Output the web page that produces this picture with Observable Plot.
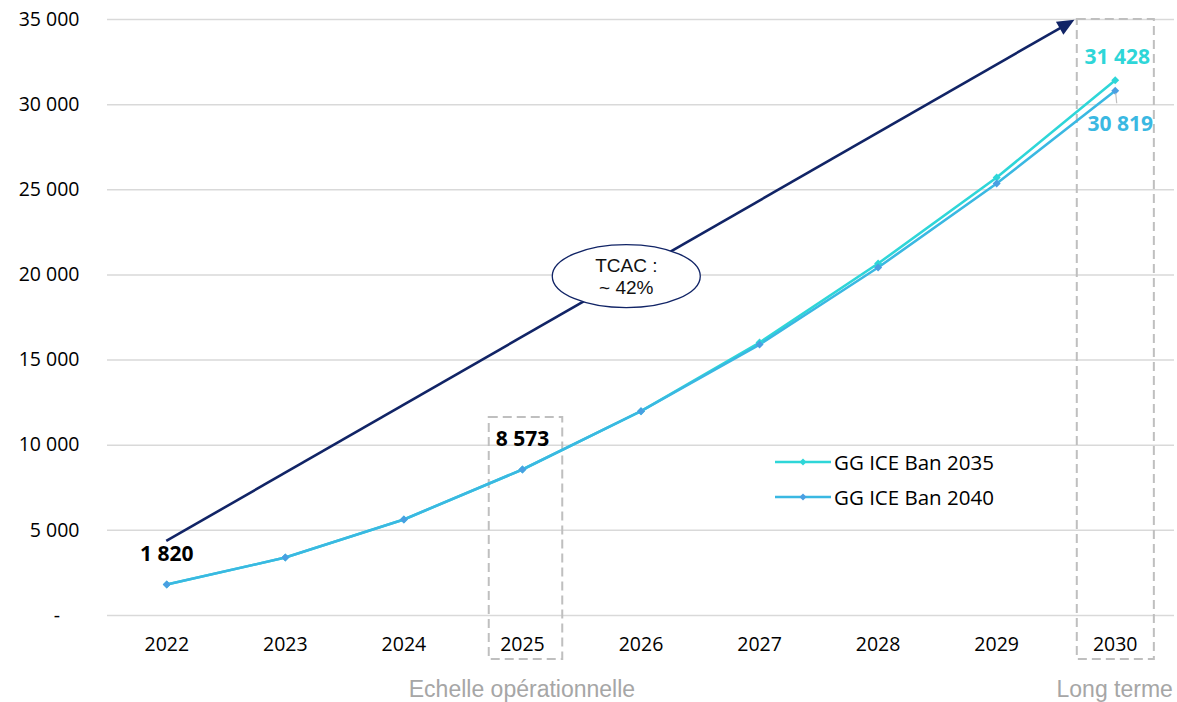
<!DOCTYPE html>
<html>
<head>
<meta charset="utf-8">
<script src="https://cdn.jsdelivr.net/npm/d3@7"></script>
<script src="https://cdn.jsdelivr.net/npm/@observablehq/plot@0.6"></script>
<style>
  html, body { margin: 0; padding: 0; background: #fff; }
  #wrap { position: relative; width: 1177px; height: 702px; font-family: "Open Sans", sans-serif; }
  .leg { position: absolute; left: 775px; font-size: 20.5px; color: #000; display: flex; align-items: center; font-family: "Open Sans", sans-serif; }
  .cap { position: absolute; top: 675px; font-size: 23px; line-height: 28px; color: #a6a6a6; transform: translateX(-50%); white-space: nowrap; font-family: "Liberation Sans", Arial, sans-serif; }
</style>
</head>
<body>
<div id="wrap"></div>
<script>
// ---- data ----
const years = [2022, 2023, 2024, 2025, 2026, 2027, 2028, 2029, 2030];
const ban2035 = [1820, 3400, 5640, 8573, 12000, 16030, 20670, 25720, 31428];
const ban2040 = [1820, 3400, 5640, 8573, 12000, 15910, 20435, 25370, 30819];
const seriesNames = ["GG ICE Ban 2035", "GG ICE Ban 2040"];
const yTicks = [0, 5000, 10000, 15000, 20000, 25000, 30000, 35000];
const labelYears = [2022, 2025, 2030, 2030];
const labelValues = [1820, 8573, 31428, 30819];
const labelSeries = [0, 0, 0, 1];
const arrowFrom = [2022, 4350];
const arrowTo = [2029.66, 34950];
const cagrAt = [2025.88, 19900];
const cagrText = "TCAC :\n~ 42%";
const boxYears = [[2024.72, 2025.34, 11630], [2029.68, 2030.33, 35000]];
const captions = ["Echelle opérationnelle", "Long terme"];
const captionYears = [2025, 2030];

const colors = ["#2ed6d8", "#3ab8e2"];
const markerColors = ["#2ed6d8", "#4a9fe2"];
const labelColors = ["#2ed6d8", "#3ab8e2"];

const fmt = d => d === 0 ? "-\u2002\u2002" : d3.format(",")(d).replace(/,/g, " ");

const rows = years.map((y, i) => ({year: y, value: ban2035[i], s: seriesNames[0]}));
const rows2 = years.map((y, i) => ({year: y, value: ban2040[i], s: seriesNames[1]}));
const labels = labelYears.map((y, i) => ({year: y, value: labelValues[i], idx: i, s: labelSeries[i]}));
const boxes = boxYears.map(b => ({x1: b[0], x2: b[1], y2: b[2]}));

// arrow mark (filled head)
function arrowMark(index, scales) {
  const x1 = scales.x(arrowFrom[0]), y1 = scales.y(arrowFrom[1]);
  const x2 = scales.x(arrowTo[0]), y2 = scales.y(arrowTo[1]);
  const dx = x2 - x1, dy = y2 - y1, len = Math.hypot(dx, dy);
  const ux = dx / len, uy = dy / len, px = -uy, py = ux;
  const hl = 17, hw = 7.5;
  const bx = x2 - ux * hl, by = y2 - uy * hl;
  const g = d3.create("svg:g");
  g.append("line").attr("x1", x1).attr("y1", y1).attr("x2", bx + ux * 2).attr("y2", by + uy * 2)
    .attr("stroke", "#112466").attr("stroke-width", 2.6);
  g.append("polygon")
    .attr("points", `${x2},${y2} ${bx + px * hw},${by + py * hw} ${bx - px * hw},${by - py * hw}`)
    .attr("fill", "#112466");
  return g.node();
}
function ellipseMark(index, scales) {
  const cx = scales.x(cagrAt[0]), cy = scales.y(cagrAt[1]);
  const g = d3.create("svg:g");
  g.append("ellipse").attr("cx", cx).attr("cy", cy).attr("rx", 74).attr("ry", 31.5)
    .attr("fill", "#fff").attr("stroke", "#112466").attr("stroke-width", 1.3);
  const lines = cagrText.split("\n");
  lines.forEach((t, i) => {
    g.append("text").attr("x", cx).attr("y", cy + (i - 0.5) * 22 + 7)
      .attr("text-anchor", "middle").attr("font-family", "Liberation Sans, Arial, sans-serif")
      .attr("font-size", 19).attr("fill", "#111").text(t);
  });
  return g.node();
}
function leaderMark(index, scales) {
  const g = d3.create("svg:g");
  labels.filter(d => d.idx === 3).forEach(d => {
    const x = scales.x(d.year), y = scales.y(d.value);
    g.append("line").attr("x1", x + 1).attr("y1", y + 3).attr("x2", x + 2).attr("y2", y + 13)
      .attr("stroke", "#bfbfbf").attr("stroke-width", 1.2);
  });
  return g.node();
}

const chart = Plot.plot({
  width: 1177,
  height: 702,
  marginTop: 19,
  marginBottom: 87,
  marginLeft: 107,
  marginRight: 3,
  style: {fontFamily: "Open Sans, sans-serif", fontSize: "19.5px", color: "#000", background: "#fff", overflow: "visible"},
  x: {domain: [2021.5, 2030.5], ticks: years, tickFormat: d => String(d), tickSize: 0, tickPadding: 22, label: null},
  y: {domain: [0, 35000], ticks: yTicks, tickFormat: fmt, tickSize: 0, tickPadding: 28, label: null, grid: false},
  marks: [
    Plot.gridY(yTicks, {stroke: "#d9d9d9", strokeOpacity: 1, strokeWidth: 1.5}),
    Plot.rect(boxes, {x1: "x1", x2: "x2", y1: () => -2580, y2: "y2", fill: "none", stroke: "#bfbfbf", strokeWidth: 2, strokeDasharray: "9,5", clip: false}),
    arrowMark,
    Plot.line(rows, {x: "year", y: "value", stroke: colors[0], strokeWidth: 2.6}),
    Plot.line(rows2, {x: "year", y: "value", stroke: colors[1], strokeWidth: 2.6}),
    Plot.dot(rows, {x: "year", y: "value", symbol: "diamond2", r: 3.6, fill: markerColors[0]}),
    Plot.dot(rows2, {x: "year", y: "value", symbol: "diamond2", r: 3.6, fill: markerColors[1]}),
    leaderMark,
    Plot.text(labels.filter(d => d.idx < 2), {x: "year", y: "value", text: d => fmt(d.value), dy: -30, fontWeight: "bold", fontSize: 21, fill: "#000"}),
    Plot.text(labels.filter(d => d.idx === 2), {x: "year", y: "value", text: d => fmt(d.value), dy: -23, dx: 2, fontWeight: "bold", fontSize: 21, fill: labelColors[0]}),
    Plot.text(labels.filter(d => d.idx === 3), {x: "year", y: "value", text: d => fmt(d.value), dy: 34, dx: 5, fontWeight: "bold", fontSize: 21, fill: labelColors[1]}),
    ellipseMark
  ]
});

const wrap = document.getElementById("wrap");
wrap.appendChild(chart);

// legend
seriesNames.forEach((name, i) => {
  const d = document.createElement("div");
  d.className = "leg";
  d.style.top = (448 + i * 35) + "px";
  d.innerHTML = `<svg width="56" height="28" style="margin-right:3px"><line x1="0" x2="56" y1="14" y2="14" stroke="${colors[i]}" stroke-width="2.6"/><path d="M28,10.5 L31.5,14 L28,17.5 L24.5,14 Z" fill="${markerColors[i]}"/></svg><span>${name}</span>`;
  wrap.appendChild(d);
});
// captions
const xs = chart.scale("x");
captions.forEach((c, i) => {
  const d = document.createElement("div");
  d.className = "cap";
  d.style.left = xs.apply(captionYears[i]) + "px";
  d.textContent = c;
  wrap.appendChild(d);
});
</script>
</body>
</html>
